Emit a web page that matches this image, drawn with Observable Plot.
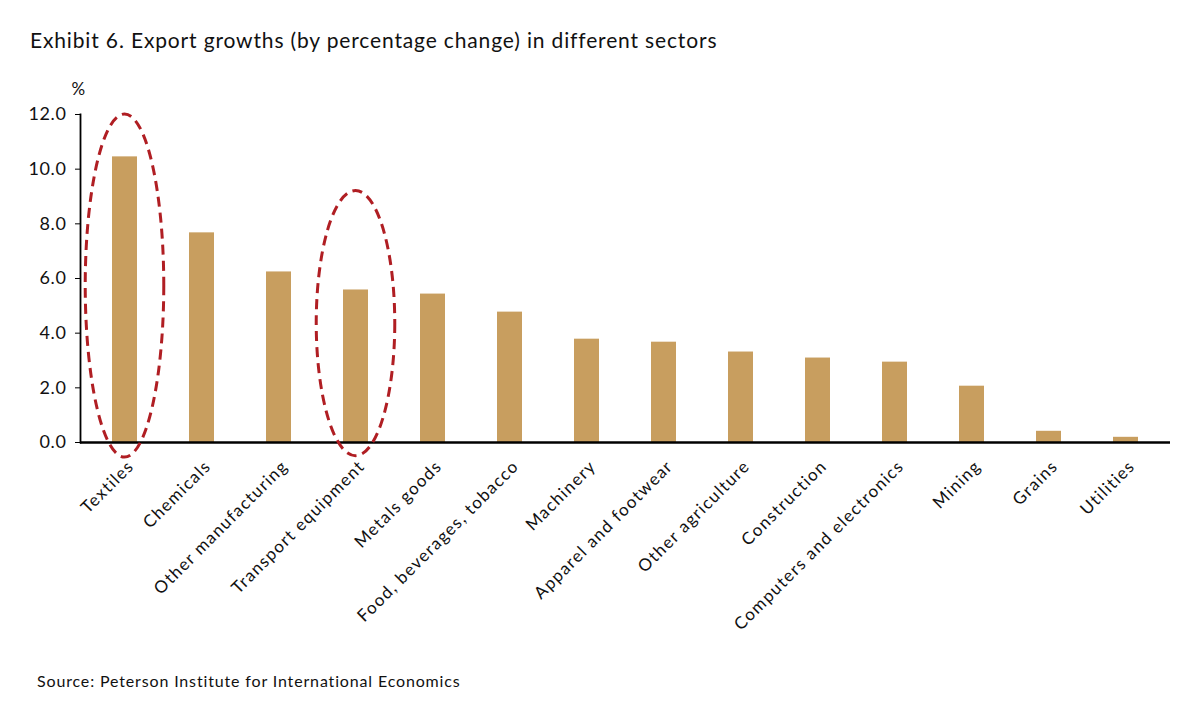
<!DOCTYPE html>
<html>
<head>
<meta charset="utf-8">
<script src="https://cdn.jsdelivr.net/npm/d3@7"></script>
<script src="https://cdn.jsdelivr.net/npm/@observablehq/plot@0.6"></script>
<style>
  html, body { margin: 0; padding: 0; background: #fff; }
  body { width: 1181px; height: 710px; overflow: hidden; font-family: Lato, "Noto Sans", sans-serif; color: #111; }
  #title { padding: 27px 0 0 30px; font-size: 21px; letter-spacing: 0.85px; line-height: 25px; height: 32px; }
  #source { padding: 22px 0 0 37px; font-size: 16px; letter-spacing: 0.85px; line-height: 20px; }
  #chart svg { display: block; }
  #chart svg text { letter-spacing: 0.6px; }
  #chart svg g[aria-label="x-axis tick label"] text { letter-spacing: 1.3px; }
</style>
</head>
<body>
<div id="title">Exhibit 6. Export growths (by percentage change) in different sectors</div>
<div id="chart"></div>
<div id="source">Source: Peterson Institute for International Economics</div>
<script>
const categories = ["Textiles", "Chemicals", "Other manufacturing", "Transport equipment", "Metals goods",
  "Food, beverages, tobacco", "Machinery", "Apparel and footwear", "Other agriculture", "Construction",
  "Computers and electronics", "Mining", "Grains", "Utilities"];
const values = [10.45, 7.67, 6.24, 5.58, 5.43, 4.77, 3.78, 3.67, 3.31, 3.09, 2.94, 2.06, 0.41, 0.19];
const yTicks = [0, 2, 4, 6, 8, 10, 12];
const highlighted = ["Textiles", "Transport equipment"];
const highlightTop = [12.0, 9.2];
const highlightBottom = [-0.55, -0.5];

const data = categories.map((c, i) => ({category: c, value: values[i]}));

const ellipses = (index, scales) => {
  const g = d3.create("svg:g");
  const bw = scales.x.bandwidth();
  const step = scales.x.step();
  highlighted.forEach((c, i) => {
    const cx = scales.x(c) + bw / 2;
    const y1 = scales.y(highlightTop[i]);
    const y2 = scales.y(highlightBottom[i]);
    g.append("ellipse")
      .attr("cx", cx)
      .attr("cy", (y1 + y2) / 2)
      .attr("rx", step * 0.51)
      .attr("ry", (y2 - y1) / 2)
      .attr("fill", "none")
      .attr("stroke", "#B01E23")
      .attr("stroke-width", 3)
      .attr("stroke-dasharray", "10,6");
  });
  return g.node();
};

const plot = Plot.plot({
  width: 1181,
  height: 590,
  marginLeft: 80,
  marginRight: 11,
  marginTop: 55,
  marginBottom: 207,
  style: {fontFamily: "Lato, 'Noto Sans', sans-serif", color: "#111", background: "#fff"},
  x: {domain: categories, paddingInner: 0.68, paddingOuter: 0.34},
  y: {domain: [0, 12]},
  marks: [
    Plot.barY(data, {x: "category", y: "value", fill: "#C89E5F"}),
    Plot.ruleY([0], {stroke: "#000", strokeWidth: 2.5}),
    Plot.frame({anchor: "left", stroke: "#000", strokeWidth: 1.8}),
    Plot.axisY({ticks: yTicks, tickFormat: d3.format(".1f"), tickSize: 5, tickPadding: 9, fontSize: 18, label: null, stroke: "#000"}),
    Plot.axisX({tickRotate: -45, tickSize: 0, tickPadding: 12, dx: 6, dy: 9, fontSize: 17, label: null}),
    Plot.text(["%"], {frameAnchor: "top-left", dy: -32, dx: -2, fontSize: 17, textAnchor: "middle"}),
    ellipses
  ]
});
document.getElementById("chart").appendChild(plot);
</script>
</body>
</html>
